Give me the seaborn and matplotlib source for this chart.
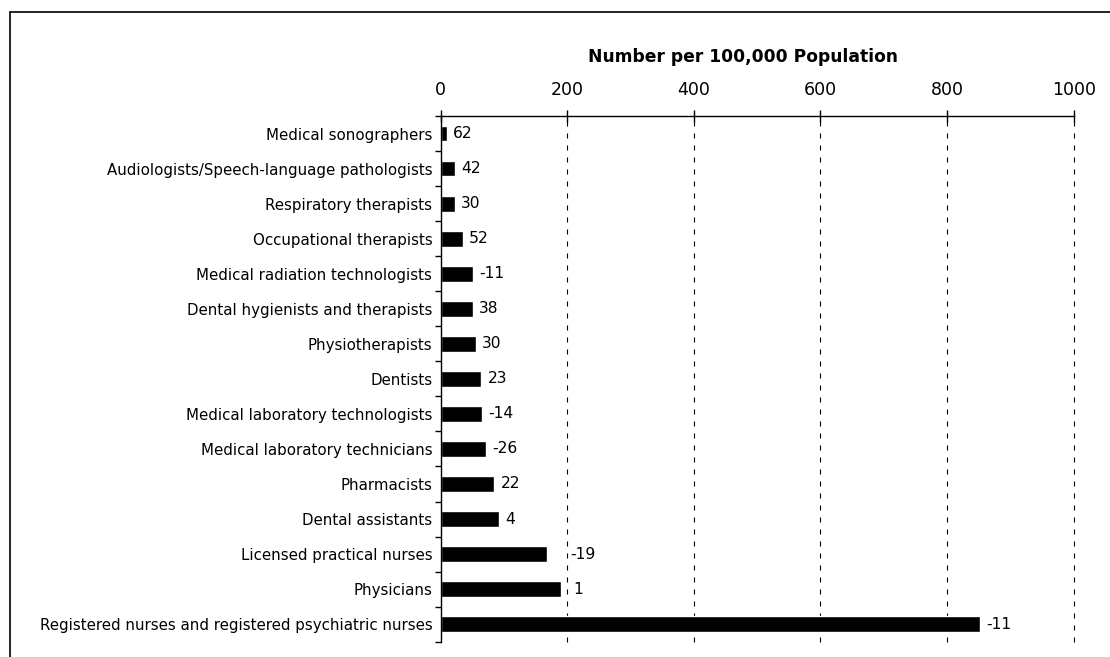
import matplotlib
matplotlib.use("Agg")
import matplotlib.pyplot as plt
import seaborn as sns
import numpy as np
from matplotlib.lines import Line2D

# Values
occupations = [
    "Medical sonographers",
    "Audiologists/Speech-language pathologists",
    "Respiratory therapists",
    "Occupational therapists",
    "Medical radiation technologists",
    "Dental hygienists and therapists",
    "Physiotherapists",
    "Dentists",
    "Medical laboratory technologists",
    "Medical laboratory technicians",
    "Pharmacists",
    "Dental assistants",
    "Licensed practical nurses",
    "Physicians",
    "Registered nurses and registered psychiatric nurses",
]
per_100k = [10, 22, 22, 35, 51, 51, 56, 64, 66, 71, 85, 92, 168, 190, 852]
pct_change = [62, 42, 30, 52, -11, 38, 30, 23, -14, -26, 22, 4, -19, 1, -11]
xticks = [0, 200, 400, 600, 800, 1000]

sns.set_theme(style="white")
plt.rcParams["font.family"] = ["DejaVu Sans"]

fig = plt.figure(figsize=(11.1, 6.57), dpi=100)
ax = fig.add_axes([0.397, 0.0233, 0.5703, 0.8001])

sns.barplot(x=per_100k, y=occupations, orient="h", color="black",
            width=0.45, saturation=1, ax=ax)

ax.set_xlim(0, 1000)
ax.set_ylim(len(occupations) - 0.5, -0.5)

# x axis on top
ax.xaxis.tick_top()
ax.set_xticks(xticks)
ax.tick_params(axis="x", direction="inout", length=9, width=1, color="black",
               labelsize=12.5, pad=8, labelcolor="black", top=True, bottom=False)
ax.set_xlabel("")

# y axis: labels without ticks, ticks between categories
ax.tick_params(axis="y", which="major", length=0, pad=6, labelsize=10.8,
               labelcolor="black")
ax.set_yticks(np.arange(-0.5, len(occupations), 1), minor=True)
ax.tick_params(axis="y", which="minor", direction="out", length=4, width=1,
               color="black", left=True)
ax.set_ylabel("")

for side in ["right", "bottom"]:
    ax.spines[side].set_visible(False)
for side in ["left", "top"]:
    ax.spines[side].set_color("black")
    ax.spines[side].set_linewidth(1.0)

# dashed gridlines
for x in xticks[1:]:
    ax.axvline(x, color="black", lw=0.8, dashes=(4.5, 6.3), zorder=0,
               clip_on=False)

# value labels (percent change)
pads = [4.5] * len(pct_change)
pads[12] = 17
pads[13] = 9
for bar, lab, p in zip(ax.patches, pct_change, pads):
    ax.annotate(str(lab), (bar.get_width(), bar.get_y() + bar.get_height() / 2),
                xytext=(p, 0), textcoords="offset points", ha="left",
                va="center", fontsize=11.2, color="black")

fig.text(743 / 1110, 1 - 57 / 657, "Number per 100,000 Population",
         ha="center", va="center", fontsize=12.3, fontweight="bold",
         color="black")

# outer frame (only left and top edges are visible)
fig.add_artist(Line2D([10 / 1110, 10 / 1110], [1 - 12 / 657, 0], color="black",
                      lw=1.2, transform=fig.transFigure))
fig.add_artist(Line2D([10 / 1110, 1], [1 - 12 / 657, 1 - 12 / 657], color="black",
                      lw=1.2, transform=fig.transFigure))

fig.savefig("out.png", dpi=100)
